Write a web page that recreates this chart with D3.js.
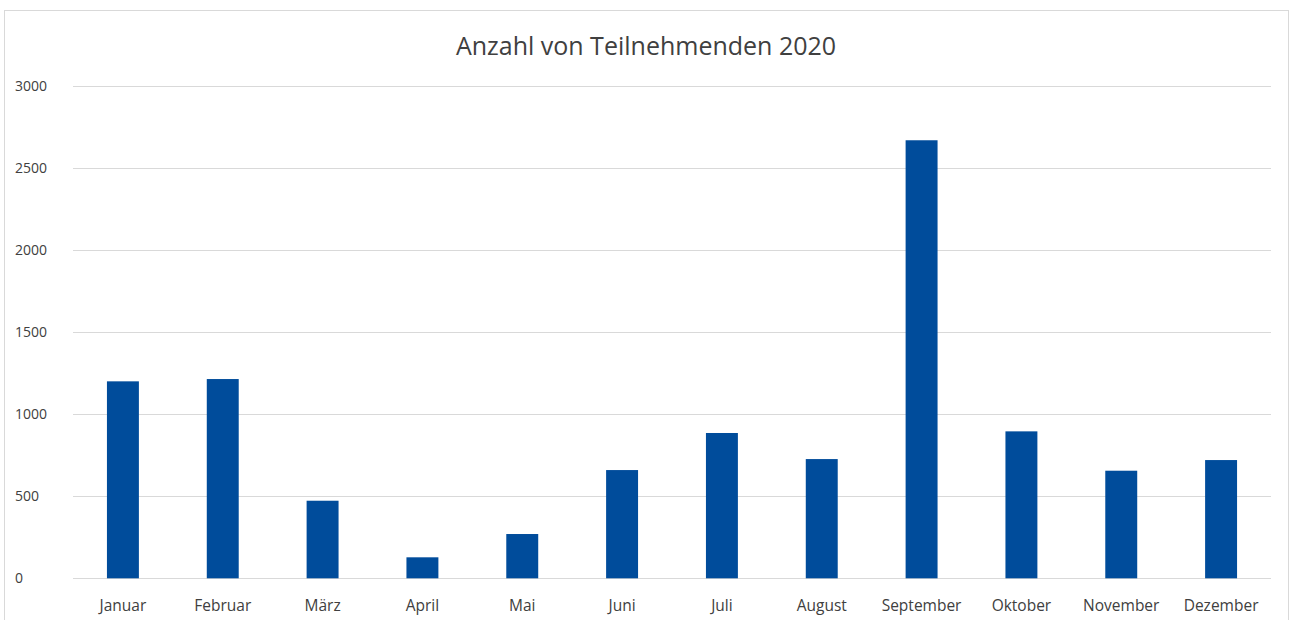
<!DOCTYPE html>
<html>
<head>
<meta charset="utf-8">
<script src="https://cdn.jsdelivr.net/npm/d3@7"></script>
<style>
  html, body { margin: 0; padding: 0; background: #fff; }
  svg { display: block; font-family: "Open Sans", "Noto Sans", sans-serif; }
</style>
</head>
<body>
<svg id="chart" width="1290" height="620"></svg>
<script>
const title = "Anzahl von Teilnehmenden 2020";
const months = ["Januar", "Februar", "März", "April", "Mai", "Juni", "Juli", "August", "September", "Oktober", "November", "Dezember"];
const participants = [1201, 1215, 473, 128, 270, 660, 886, 727, 2671, 896, 656, 721];
const yTicks = [0, 500, 1000, 1500, 2000, 2500, 3000];

const svg = d3.select("#chart");
const plot = { left: 73, right: 1271, top: 86.3, bottom: 578.3 };

// outer frame
svg.append("rect")
  .attr("x", 4.5).attr("y", 10.5)
  .attr("width", 1284).attr("height", 640)
  .attr("fill", "#fff").attr("stroke", "#d9d9d9").attr("stroke-width", 1);

const x = d3.scaleBand().domain(months).range([plot.left, plot.right]).paddingInner(0.68).paddingOuter(0.34);
const y = d3.scaleLinear().domain([0, 3000]).range([plot.bottom, plot.top]);

// gridlines
svg.append("g").selectAll("line").data(yTicks).join("line")
  .attr("x1", plot.left).attr("x2", plot.right)
  .attr("y1", d => Math.round(y(d)) + 0.5).attr("y2", d => Math.round(y(d)) + 0.5)
  .attr("stroke", "#d9d9d9").attr("stroke-width", 1.2);

// y labels
svg.append("g").selectAll("text").data(yTicks).join("text")
  .attr("x", 15).attr("y", d => y(d)).attr("dy", "0.35em")
  .attr("fill", "#404040").attr("font-size", 14)
  .text(d => d);

// bars
svg.append("g").selectAll("rect").data(months).join("rect")
  .attr("x", d => x(d)).attr("width", x.bandwidth())
  .attr("y", (d, i) => y(participants[i]))
  .attr("height", (d, i) => y(0) - y(participants[i]))
  .attr("fill", "#004C9B");

// x labels
svg.append("g").selectAll("text").data(months).join("text")
  .attr("x", d => x(d) + x.bandwidth() / 2).attr("y", 611)
  .attr("text-anchor", "middle")
  .attr("fill", "#404040").attr("font-size", 15.5)
  .text(d => d);

// title
svg.append("text")
  .attr("x", 646).attr("y", 55)
  .attr("text-anchor", "middle")
  .attr("fill", "#404040").attr("font-size", 25)
  .text(title);
</script>
</body>
</html>
